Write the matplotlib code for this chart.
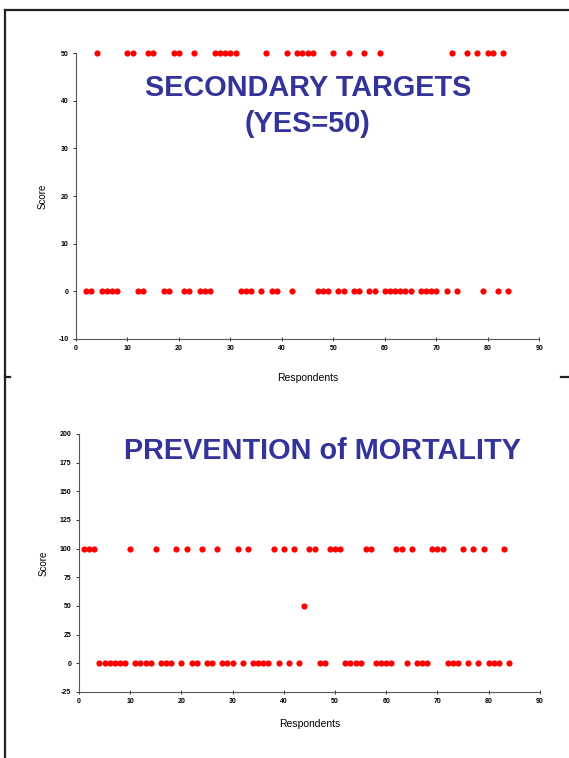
import matplotlib.pyplot as plt
from matplotlib.lines import Line2D

# ── Data ──────────────────────────────────────────────────────────────────────

# Secondary targets: respondents answering YES (=50) and NO (=0)
sec_yes = [4, 10, 11, 14, 15, 19, 20, 23, 27, 28, 29, 30, 31, 37, 41, 43, 44,
           45, 46, 50, 53, 56, 59, 73, 76, 78, 80, 81, 83]
sec_no = [2, 3, 5, 6, 7, 8, 12, 13, 17, 18, 21, 22, 24, 25, 26, 32, 33, 34, 36,
          38, 39, 42, 47, 48, 49, 51, 52, 54, 55, 57, 58, 60, 61, 62, 63, 64,
          65, 67, 68, 69, 70, 72, 74, 79, 82, 84]

# Prevention of mortality: 100, 50 and 0 scores
mort_100 = [1, 2, 3, 10, 15, 19, 21, 24, 27, 31, 33, 38, 40, 42, 45, 46, 49,
            50, 51, 56, 57, 62, 63, 65, 69, 70, 71, 75, 77, 79, 83]
mort_50 = [44]
mort_0 = [4, 5, 6, 7, 8, 9, 11, 12, 13, 14, 16, 17, 18, 20, 22, 23, 25, 26, 28,
          29, 30, 32, 34, 35, 36, 37, 39, 41, 43, 47, 48, 52, 53, 54, 55, 58,
          59, 60, 61, 64, 66, 67, 68, 72, 73, 74, 76, 78, 80, 81, 82, 84]

# ── Style ─────────────────────────────────────────────────────────────────────

plt.rcParams.update({
    "font.family": ["Liberation Sans", "DejaVu Sans"],
    "axes.linewidth": 0.8,
    "axes.unicode_minus": False,
})

RED = "#ff0000"
NAVY = "#333399"
MS = 20
TITLE_FS = 20.8

fig = plt.figure(figsize=(5.69, 7.58), dpi=100)


def style_axes(ax, yticks, ylim):
    ax.set_xlim(0, 90)
    ax.set_ylim(*ylim)
    ax.set_xticks(range(0, 91, 10))
    ax.set_yticks(yticks)
    ax.spines["top"].set_visible(False)
    ax.spines["right"].set_visible(False)
    ax.spines["left"].set_color("#555555")
    ax.spines["bottom"].set_color("#555555")
    ax.tick_params(axis="both", labelsize=5, length=2.5, width=0.7,
                   colors="#333333", pad=3)
    ax.tick_params(axis="x", direction="inout", length=3)
    for lab in ax.get_xticklabels() + ax.get_yticklabels():
        lab.set_fontweight("bold")
        lab.set_color("black")
    ax.set_xlabel("Respondents", fontsize=7.5, labelpad=15)
    ax.set_ylabel("Score", fontsize=7, labelpad=8)


# ── Top panel ─────────────────────────────────────────────────────────────────

ax1 = fig.add_axes([0.1336, 0.5528, 0.814, 0.377])
ax1.scatter(sec_yes, [50] * len(sec_yes), s=MS, color=RED, lw=0, clip_on=False)
ax1.scatter(sec_no, [0] * len(sec_no), s=MS, color=RED, lw=0, clip_on=False)
style_axes(ax1, range(-10, 51, 10), (-10, 50))

fig.text(308 / 569, 1 - 88 / 758, "SECONDARY TARGETS", color=NAVY,
         fontsize=TITLE_FS, fontweight="bold", ha="center", va="center")
fig.text(308 / 569, 1 - 124 / 758, "(YES=50)", color=NAVY,
         fontsize=TITLE_FS, fontweight="bold", ha="center", va="center")

# ── Bottom panel ──────────────────────────────────────────────────────────────

ax2 = fig.add_axes([0.1388, 0.0871, 0.810, 0.3404])
ax2.scatter(mort_100, [100] * len(mort_100), s=MS, color=RED, lw=0, clip_on=False)
ax2.scatter(mort_50, [50] * len(mort_50), s=MS, color=RED, lw=0, clip_on=False)
ax2.scatter(mort_0, [0] * len(mort_0), s=MS, color=RED, lw=0, clip_on=False)
style_axes(ax2, range(-25, 201, 25), (-25, 200))
ax2.xaxis.labelpad = 10

fig.text(323 / 569, 1 - 451 / 758, "PREVENTION of MORTALITY", color=NAVY,
         fontsize=TITLE_FS, fontweight="bold", ha="center", va="center")

# ── Page frame ────────────────────────────────────────────────────────────────

fw, fh = 569, 758
frame = [
    ([5 / fw, 5 / fw], [0, 1 - 10 / fh]),
    ([5 / fw, 1], [1 - 10 / fh, 1 - 10 / fh]),
    ([5 / fw, 10 / fw], [1 - 377 / fh, 1 - 377 / fh]),
    ([561 / fw, 1], [1 - 377 / fh, 1 - 377 / fh]),
]
for xs, ys in frame:
    fig.add_artist(Line2D(xs, ys, transform=fig.transFigure,
                          color="#222222", lw=1.6))

fig.savefig("out.png", dpi=100)
